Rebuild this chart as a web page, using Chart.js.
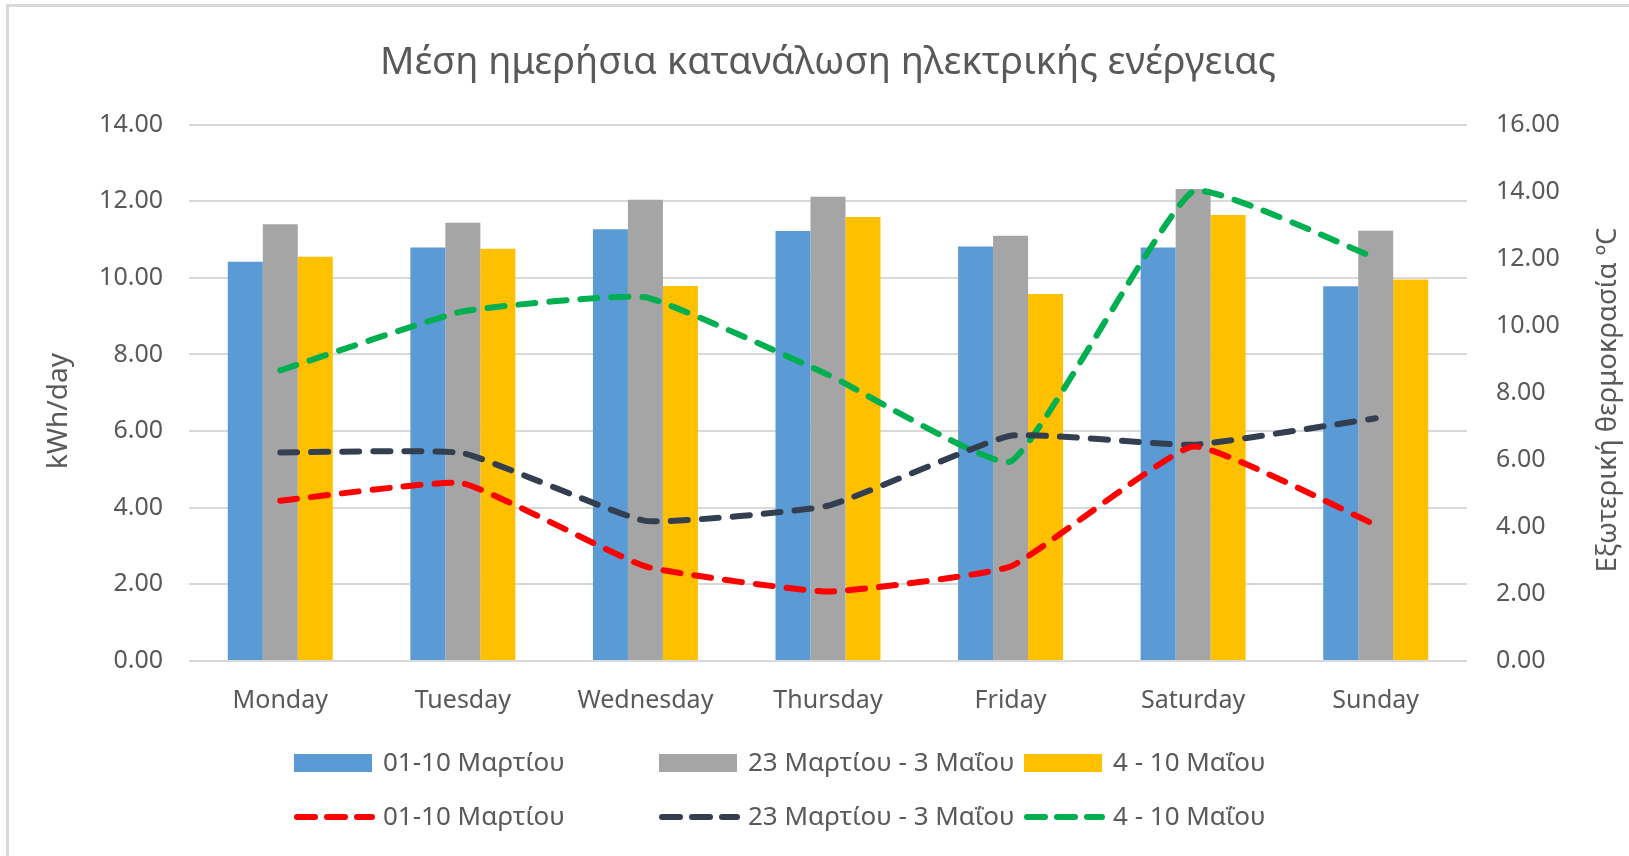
<!DOCTYPE html>
<html>
<head>
<meta charset="utf-8">
<script src="https://cdn.jsdelivr.net/npm/chart.js@4.4.1/dist/chart.umd.min.js"></script>
<style>
    html, body { margin: 0; padding: 0; background: #ffffff; }
    #wrap { width: 1629px; height: 856px; }
</style>
</head>
<body>
<div id="wrap"><canvas id="energy-chart" width="1629" height="856"></canvas></div>
<script>
// Days of the week (categories)
const days = ['Monday', 'Tuesday', 'Wednesday', 'Thursday', 'Friday', 'Saturday', 'Sunday'];

// Period names
const periods = ['01-10 Μαρτίου', '23 Μαρτίου - 3 Μαΐου', '4 - 10 Μαΐου'];

// Average daily consumption, kWh/day (bars, left axis)
const kwhMarch = [10.42, 10.79, 11.27, 11.22, 10.82, 10.79, 9.78];
const kwhMarMay = [11.40, 11.44, 12.04, 12.12, 11.10, 12.32, 11.23];
const kwhMay = [10.55, 10.76, 9.79, 11.59, 9.58, 11.64, 9.96];

// Outdoor temperature, °C (lines, right axis)
const tempMarch = [4.78, 5.30, 2.82, 2.07, 2.82, 6.40, 4.06];
const tempMarMay = [6.22, 6.20, 4.18, 4.63, 6.72, 6.45, 7.24];
const tempMay = [8.67, 10.43, 10.85, 8.54, 5.95, 14.01, 12.02];

// Axis titles
const leftTitle = 'kWh/day';
const rightTitle = 'Εξωτερική θερμοκρασία ºC';

const textColor = '#595959';
const gridColor = '#D9D9D9';
const fontFamily = '"Noto Sans", "Open Sans", sans-serif';
const dashPattern = [17, 14];

document.addEventListener('DOMContentLoaded', function() {
    initializeEnergyChart();
});

// white background plus the thin frame at the top and left edge
const framePlugin = {
    id: 'frame',
    beforeDraw(chart) {
        const ctx = chart.ctx;
        ctx.save();
        ctx.fillStyle = '#ffffff';
        ctx.fillRect(0, 0, chart.width, chart.height);
        ctx.strokeStyle = gridColor;
        ctx.lineWidth = 3;
        ctx.beginPath();
        ctx.moveTo(6, 5.5);
        ctx.lineTo(chart.width, 5.5);
        ctx.moveTo(7.5, 4);
        ctx.lineTo(7.5, chart.height);
        ctx.stroke();
        ctx.restore();
    }
};

// both axis titles read bottom-to-top, as in the spreadsheet
const axisTitlePlugin = {
    id: 'axisTitles',
    afterDraw(chart) {
        const ctx = chart.ctx;
        ctx.save();
        ctx.fillStyle = textColor;
        ctx.textAlign = 'center';
        ctx.textBaseline = 'middle';

        ctx.font = '28px ' + fontFamily;
        ctx.translate(59, 411);
        ctx.rotate(-Math.PI / 2);
        ctx.fillText(leftTitle, 0, 0);
        ctx.setTransform(1, 0, 0, 1, 0, 0);

        ctx.font = '27.5px ' + fontFamily;
        ctx.translate(1608, 400);
        ctx.rotate(-Math.PI / 2);
        ctx.fillText(rightTitle, 0, 0);
        ctx.restore();
    }
};

// legend laid out as a 3 x 2 grid, like the spreadsheet one
const gridLegendPlugin = {
    id: 'gridLegend',
    afterDraw(chart) {
        const ctx = chart.ctx;
        const startX = 294;
        const colWidth = 365;
        const rowY = [763, 817];
        const boxW = 78;
        const boxH = 18;

        ctx.save();
        ctx.font = '26px ' + fontFamily;
        ctx.textBaseline = 'middle';
        ctx.textAlign = 'left';

        chart.data.datasets.forEach((ds, i) => {
            const row = i < 3 ? 0 : 1;
            const col = i % 3;
            const x = startX + col * colWidth;
            const y = rowY[row];

            if (ds.type === 'line') {
                ctx.strokeStyle = ds.borderColor;
                ctx.lineWidth = ds.borderWidth;
                ctx.lineCap = 'round';
                ctx.setLineDash([18, 12]);
                ctx.beginPath();
                ctx.moveTo(x + 3, y);
                ctx.lineTo(x + boxW, y);
                ctx.stroke();
                ctx.setLineDash([]);
            } else {
                ctx.fillStyle = ds.backgroundColor;
                ctx.fillRect(x, y - boxH / 2, boxW, boxH);
            }

            ctx.fillStyle = textColor;
            ctx.fillText(ds.label, x + boxW + 11, y + 1);
        });
        ctx.restore();
    }
};

function barSet(label, values, color) {
    return {
        type: 'bar',
        label: label,
        data: values,
        backgroundColor: color,
        borderWidth: 0,
        yAxisID: 'y',
        order: 2
    };
}

function lineSet(label, values, color) {
    return {
        type: 'line',
        label: label,
        data: values,
        borderColor: color,
        backgroundColor: color,
        borderWidth: 6,
        borderDash: dashPattern,
        borderCapStyle: 'round',
        borderJoinStyle: 'round',
        pointRadius: 0,
        tension: 0.12,
        fill: false,
        yAxisID: 'y1',
        order: 1
    };
}

function initializeEnergyChart() {
    const ctx = document.getElementById('energy-chart').getContext('2d');

    window.energyChart = new Chart(ctx, {
        type: 'bar',
        data: {
            labels: days,
            datasets: [
                barSet(periods[0], kwhMarch, '#5B9BD5'),
                barSet(periods[1], kwhMarMay, '#A5A5A5'),
                barSet(periods[2], kwhMay, '#FFC000'),
                lineSet(periods[0], tempMarch, '#FF0000'),
                lineSet(periods[1], tempMarMay, '#333F50'),
                lineSet(periods[2], tempMay, '#00B050')
            ]
        },
        plugins: [framePlugin, axisTitlePlugin, gridLegendPlugin],
        options: {
            responsive: false,
            animation: false,
            devicePixelRatio: 1,
            layout: {
                padding: { top: 0, left: 0, right: 0, bottom: 125 }
            },
            datasets: {
                bar: {
                    categoryPercentage: 0.575,
                    barPercentage: 1.0
                }
            },
            plugins: {
                legend: { display: false },
                tooltip: { enabled: false },
                title: {
                    display: true,
                    fullSize: false,
                    text: 'Μέση ημερήσια κατανάλωση ηλεκτρικής ενέργειας',
                    color: textColor,
                    font: { family: fontFamily, size: 38, weight: 'normal' },
                    padding: { top: 40, bottom: 39 }
                }
            },
            scales: {
                x: {
                    grid: { display: false },
                    border: { display: false },
                    ticks: {
                        color: textColor,
                        font: { family: fontFamily, size: 25 },
                        padding: 17
                    },
                    afterFit(scale) { scale.height = 70; }
                },
                y: {
                    position: 'left',
                    min: 0,
                    max: 14,
                    ticks: {
                        stepSize: 2,
                        color: textColor,
                        font: { family: fontFamily, size: 25 },
                        padding: 26,
                        callback: v => v.toFixed(2)
                    },
                    grid: { color: gridColor, lineWidth: 2, drawTicks: false },
                    border: { display: false },
                    afterFit(scale) { scale.width = 189; }
                },
                y1: {
                    position: 'right',
                    min: 0,
                    max: 16,
                    ticks: {
                        stepSize: 2,
                        color: textColor,
                        font: { family: fontFamily, size: 25 },
                        padding: 29,
                        callback: v => v.toFixed(2)
                    },
                    grid: { drawOnChartArea: false, drawTicks: false },
                    border: { display: false },
                    afterFit(scale) { scale.width = 162; }
                }
            }
        }
    });
}
</script>
</body>
</html>
